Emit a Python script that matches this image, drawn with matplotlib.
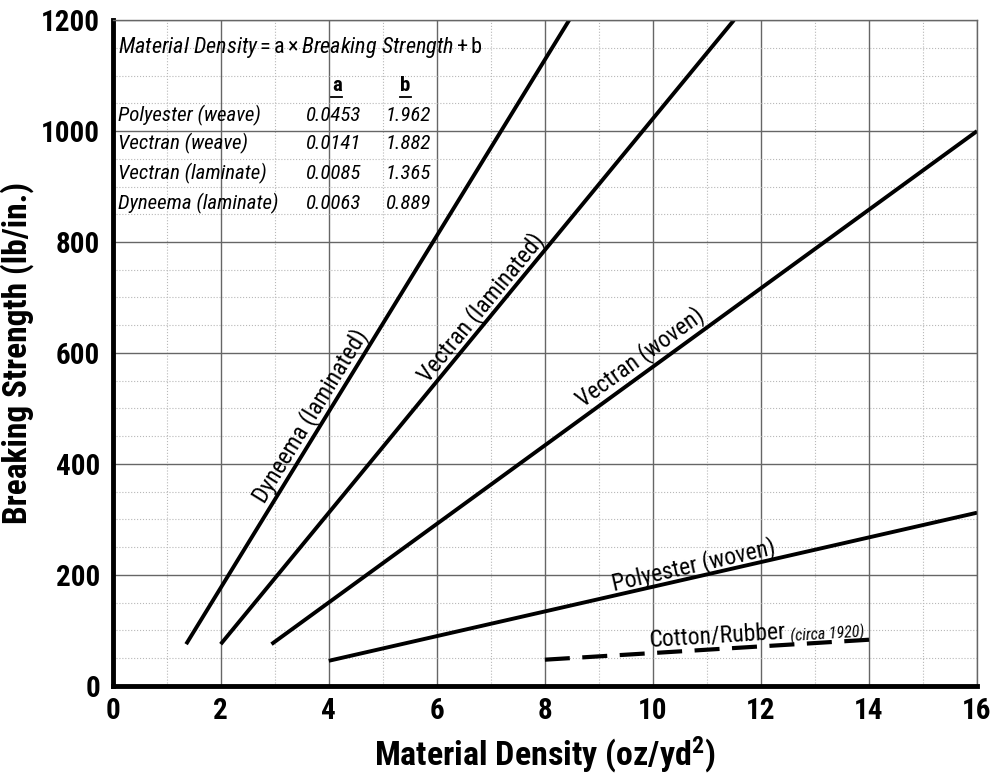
import matplotlib
matplotlib.use("Agg")
import matplotlib.pyplot as plt
from matplotlib import font_manager
import numpy as np

# pick a narrow font if one is installed, else Liberation Sans
installed = set(f.name for f in font_manager.fontManager.ttflist)
narrow = None
for name in ['Liberation Sans Narrow', 'Roboto Condensed', 'Open Sans Condensed',
             'DejaVu Sans Condensed', 'Noto Sans Condensed', 'Liberation Sans']:
    if name in installed:
        narrow = name
        break
narrow = narrow or 'DejaVu Sans'
plt.rcParams['font.family'] = [narrow, 'DejaVu Sans']
plt.rcParams['mathtext.fontset'] = 'custom'
plt.rcParams['mathtext.rm'] = narrow
plt.rcParams['mathtext.bf'] = narrow + ':bold'
plt.rcParams['mathtext.it'] = narrow + ':italic'

# line end points (density, breaking strength)
fabrics = ['Dyneema (laminated)', 'Vectran (laminated)', 'Vectran (woven)', 'Polyester (woven)']
x_start = [1.36, 2.0, 2.94, 4.0]
y_start = [75, 75, 75, 45]
x_end = [8.45, 11.5, 16.0, 16.0]
y_end = [1200, 1200, 1000, 312]

# label anchor points (on the line)
label_x = [3.85, 7.0, 9.9, 10.8]
label_y = [475, 668, 574, 196]

cotton_x = [8.0, 14.0]
cotton_y = [47, 83]

table_names = ['Polyester (weave)', 'Vectran (weave)', 'Vectran (laminate)', 'Dyneema (laminate)']
table_a = ['0.0453', '0.0141', '0.0085', '0.0063']
table_b = ['1.962', '1.882', '1.365', '0.889']

fig = plt.figure(figsize=(9.97, 7.74), dpi=100)
ax = fig.add_axes([0.113, 0.114, 0.867, 0.860])

ax.set_xlim(0, 16)
ax.set_ylim(0, 1200)
ax.set_xticks(np.arange(0, 17, 2))
ax.set_yticks(np.arange(0, 1201, 200))
ax.set_xticks(np.arange(0, 17, 1), minor=True)
ax.set_yticks(np.arange(0, 1201, 50), minor=True)
ax.grid(which='major', color='#666666', lw=1.0)
ax.grid(which='minor', color='#b8b8b8', lw=0.8, ls=':')
ax.set_axisbelow(True)
ax.tick_params(which='both', length=0)
ax.tick_params(axis='x', pad=8)
ax.tick_params(axis='y', pad=9)
for lab in ax.get_xticklabels() + ax.get_yticklabels():
    lab.set_fontsize(21)
    lab.set_fontweight('bold')

for s in ['left', 'bottom']:
    ax.spines[s].set_linewidth(3.5)
    ax.spines[s].set_color('black')
for s in ['top', 'right']:
    ax.spines[s].set_linewidth(1.0)
    ax.spines[s].set_color('#666666')

for i in range(len(fabrics)):
    ax.plot([x_start[i], x_end[i]], [y_start[i], y_end[i]], color='black', lw=2.8,
            solid_capstyle='butt')
    ang = np.degrees(np.arctan2(y_end[i] - y_start[i], x_end[i] - x_start[i]))
    ax.text(label_x[i], label_y[i], fabrics[i], rotation=ang, transform_rotates_text=True,
            rotation_mode='anchor', ha='center', va='bottom', fontsize=17)

ax.plot(cotton_x, cotton_y, color='black', lw=3.0, ls=(0, (6, 3)))
ang = np.degrees(np.arctan2(cotton_y[1] - cotton_y[0], cotton_x[1] - cotton_x[0]))
ax.text(9.95, 61, 'Cotton/Rubber', rotation=ang, transform_rotates_text=True,
        rotation_mode='anchor', ha='left', va='bottom', fontsize=17)
ax.text(12.55, 73, '(circa 1920)', rotation=ang, transform_rotates_text=True,
        rotation_mode='anchor', ha='left', va='bottom', fontsize=11.5, style='italic')

# equation and coefficient table
ax.text(0.1, 1150, r'$\mathit{Material\ Density} = \mathrm{a} \times \mathit{Breaking\ Strength} + \mathrm{b}$',
        fontsize=16, va='center', ha='left')
ax.text(4.15, 1082, 'a', fontsize=15, va='center', ha='center', fontweight='bold')
ax.text(5.42, 1082, 'b', fontsize=15, va='center', ha='center', fontweight='bold')
ax.plot([4.05, 4.25], [1061, 1061], color='black', lw=1.3)
ax.plot([5.32, 5.52], [1061, 1061], color='black', lw=1.3)
row_y = [1028, 977, 924, 870]
for i in range(len(table_names)):
    ax.text(0.1, row_y[i], table_names[i], fontsize=15, style='italic', va='center', ha='left')
    ax.text(4.6, row_y[i], table_a[i], fontsize=15, style='italic', va='center', ha='right')
    ax.text(5.9, row_y[i], table_b[i], fontsize=15, style='italic', va='center', ha='right')

ax.set_xlabel(r'Material Density (oz/yd$^{\mathbf{2}}$)', fontsize=24.5, fontweight='bold', labelpad=7)
ax.set_ylabel('Breaking Strength (lb/in.)', fontsize=24, fontweight='bold', labelpad=5)

fig.savefig('out.png', dpi=100)
